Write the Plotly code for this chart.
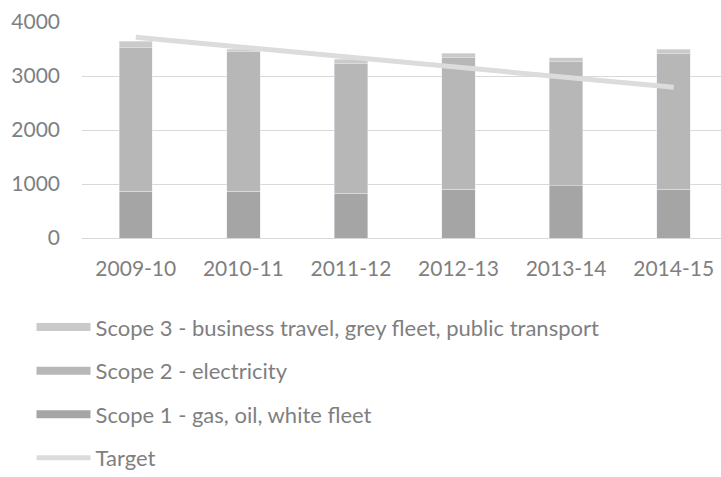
import plotly.graph_objects as go

years = ["2009-10", "2010-11", "2011-12", "2012-13", "2013-14", "2014-15"]
scope1 = [866, 866, 829, 903, 972, 903]
scope2 = [2659, 2585, 2399, 2431, 2288, 2511]
scope3 = [119, 49, 82, 87, 80, 81]
target = [3718, 3532, 3347, 3161, 2976, 2790]

names = {
    "s3": "Scope 3 - business travel, grey fleet, public transport",
    "s2": "Scope 2 - electricity",
    "s1": "Scope 1 - gas, oil, white fleet",
    "t": "Target",
}
c1, c2, c3, ct = "#A5A5A5", "#B7B7B7", "#CACACA", "#DCDCDC"
font = "Lato, 'Open Sans', sans-serif"
txt = "#7F7F7F"

fig = go.Figure()
fig.add_trace(go.Bar(x=years, y=scope1, marker_color=c1, showlegend=False, name=names["s1"]))
fig.add_trace(go.Bar(x=years, y=scope2, marker_color=c2, showlegend=False, name=names["s2"]))
fig.add_trace(go.Bar(x=years, y=scope3, marker_color=c3, showlegend=False, name=names["s3"]))
fig.add_trace(go.Scatter(x=years, y=target, mode="lines", line=dict(color=ct, width=5),
                         showlegend=False, name=names["t"]))

# legend entries
for key, col, w, rank in [("s3", c3, 8, 1), ("s2", c2, 8, 2), ("s1", c1, 8, 3), ("t", ct, 5, 4)]:
    fig.add_trace(go.Scatter(x=[years[0]], y=[None], mode="lines", line=dict(color=col, width=w),
                             name=names[key], legendgroup=key, legendrank=rank, showlegend=True))

fig.update_layout(
    width=721, height=477,
    margin=dict(l=82, r=0, t=22, b=239, autoexpand=False),
    barmode="stack", bargap=0.69,
    plot_bgcolor="white", paper_bgcolor="white",
    font=dict(family=font, color=txt, size=21),
    legend=dict(x=0.0437, y=0.358, xref="container", yref="container",
                xanchor="left", yanchor="top",
                orientation="v", traceorder="grouped", tracegroupgap=12,
                itemwidth=54, font=dict(size=22, color=txt), bgcolor="rgba(0,0,0,0)"),
)
fig.update_yaxes(range=[0, 4000], dtick=1000, gridcolor="#D9D9D9", gridwidth=1,
                 zeroline=True, zerolinecolor="#D9D9D9", zerolinewidth=1, automargin=False,
                 showline=False, ticklabelstandoff=21, tickfont=dict(size=21, color=txt))
fig.update_xaxes(type="category", range=[-0.5, 5.44], showgrid=False, showline=False, zeroline=False,
                 automargin=False, ticklabelstandoff=16, tickfont=dict(size=21, color=txt))

fig.write_html("out.html", config={"displayModeBar": False},
               post_script="document.body.style.margin='0';document.body.style.overflow='hidden';")
